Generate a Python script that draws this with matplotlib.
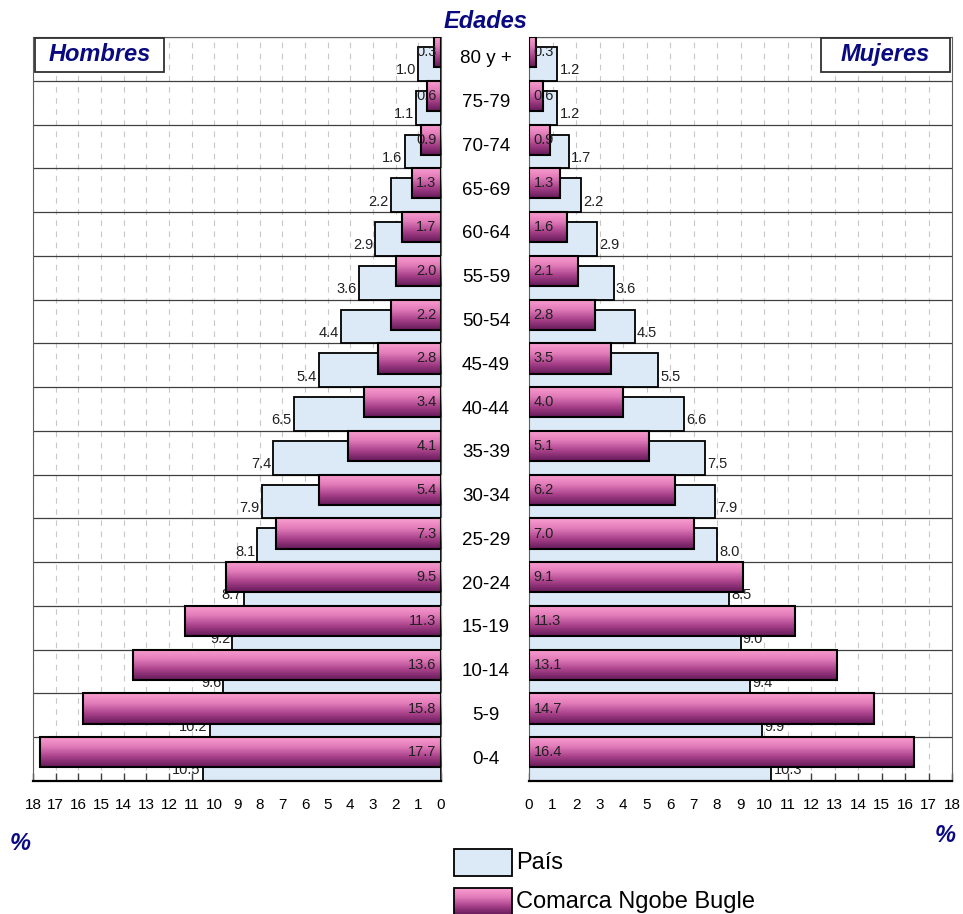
import numpy as np
import matplotlib
matplotlib.use("Agg")
import matplotlib.pyplot as plt
from matplotlib import transforms
from matplotlib.colors import LinearSegmentedColormap

plt.rcParams['font.family'] = ['Liberation Sans', 'DejaVu Sans']

# age groups, bottom to top
edades = ['0-4', '5-9', '10-14', '15-19', '20-24', '25-29', '30-34', '35-39',
          '40-44', '45-49', '50-54', '55-59', '60-64', '65-69', '70-74', '75-79', '80 y +']
hombres_pais = [10.5, 10.2, 9.6, 9.2, 8.7, 8.1, 7.9, 7.4, 6.5, 5.4, 4.4, 3.6, 2.9, 2.2, 1.6, 1.1, 1.0]
hombres_comarca = [17.7, 15.8, 13.6, 11.3, 9.5, 7.3, 5.4, 4.1, 3.4, 2.8, 2.2, 2.0, 1.7, 1.3, 0.9, 0.6, 0.3]
mujeres_pais = [10.3, 9.9, 9.4, 9.0, 8.5, 8.0, 7.9, 7.5, 6.6, 5.5, 4.5, 3.6, 2.9, 2.2, 1.7, 1.2, 1.2]
mujeres_comarca = [16.4, 14.7, 13.1, 11.3, 9.1, 7.0, 6.2, 5.1, 4.0, 3.5, 2.8, 2.1, 1.6, 1.3, 0.9, 0.6, 0.3]
xticks = list(range(0, 19))

W, H = 963, 914
navy = '#0A0A80'
blue_fill = '#DCE9F6'
pink_cmap = LinearSegmentedColormap.from_list('pk', ['#FA9FD0', '#E27BB9', '#A8418A', '#651A5A'])
grad = np.linspace(0, 1, 64).reshape(-1, 1)


def fx(px):
    return px / W


def fy(py):
    return 1 - py / H


fig = plt.figure(figsize=(9.63, 9.14), dpi=100)
ax_l = fig.add_axes([fx(33), fy(781), fx(441) - fx(33), fy(37) - fy(781)])
ax_r = fig.add_axes([fx(529), fy(781), fx(952) - fx(529), fy(37) - fy(781)])

y = np.arange(len(edades))
h_pais, h_com = 0.77, 0.69
y_pais = y - 0.5 + h_pais / 2
y_com = y + 0.5 - h_com / 2


def draw_side(ax, pais, com, left):
    ax.barh(y_pais, pais, height=h_pais, color=blue_fill, edgecolor='black',
            linewidth=1.3, zorder=2)
    bars = ax.barh(y_com, com, height=h_com, facecolor='none', edgecolor='black',
                   linewidth=1.5, zorder=4)
    for b in bars:
        x0, y0, w, hh = b.get_x(), b.get_y(), b.get_width(), b.get_height()
        im = ax.imshow(grad, extent=(x0, x0 + w, y0, y0 + hh), aspect='auto',
                       cmap=pink_cmap, zorder=3, interpolation='bilinear')
        im.set_clip_path(b)
    for i in range(len(edades)):
        # Comarca value inside bar, near the centre line
        ax.text(0.2, y_com[i], f'{com[i]:.1f}', ha='right' if left else 'left',
                va='center', fontsize=10.5, color='#202020', zorder=5)
        # País value at the end of the bar, low in the row
        ax.text(pais[i] + 0.1, i - 0.5 + 0.24, f'{pais[i]:.1f}',
                ha='right' if left else 'left', va='center', fontsize=10.5,
                color='#202020', zorder=2.5)

    ax.set_xlim((18, 0) if left else (0, 18))
    ax.set_ylim(-0.5, len(edades) - 0.5)
    ax.set_xticks(xticks)
    ax.set_yticks([])
    ax.set_yticks(np.arange(-0.5, len(edades), 1), minor=True)
    ax.tick_params(axis='y', which='both', length=0)
    ax.tick_params(axis='x', direction='in', length=6, width=1, pad=12,
                   labelsize=11, color='#404040')
    ax.grid(axis='x', linestyle=(0, (5, 5)), color='#C8C8C8', linewidth=0.8, zorder=0)
    ax.grid(axis='y', which='minor', linestyle='-', color='#404040', linewidth=0.9, zorder=1)
    ax.set_axisbelow(True)
    for s in ax.spines.values():
        s.set_color('#606060')
    ax.spines['bottom'].set_color('black')
    ax.spines['bottom'].set_linewidth(1.6)


draw_side(ax_l, hombres_pais, hombres_comarca, True)
draw_side(ax_r, mujeres_pais, mujeres_comarca, False)

# age labels in the middle
tr = transforms.blended_transform_factory(fig.transFigure, ax_l.transData)
for i, e in enumerate(edades):
    fig.text(fx(486), i, e, transform=tr, ha='center', va='center', fontsize=13.5)

title_kw = dict(fontsize=17, fontweight='bold', fontstyle='italic', color=navy)
fig.text(fx(486), fy(21), 'Edades', ha='center', va='center', **title_kw)

# header boxes for each side
for ax, lab, x0, x1 in [(ax_l, 'Hombres', 0.005, 0.321), (ax_r, 'Mujeres', 0.690, 0.995)]:
    r = plt.Rectangle((x0, 0.953), x1 - x0, 0.045, transform=ax.transAxes,
                      facecolor='white', edgecolor='#303030', linewidth=1.3, zorder=6)
    ax.add_patch(r)
    ax.text((x0 + x1) / 2, 0.976, lab, transform=ax.transAxes, ha='center',
            va='center', zorder=7, **title_kw)

fig.text(fx(20), fy(843), '%', ha='center', va='center', **title_kw)
fig.text(fx(945), fy(835), '%', ha='center', va='center', **title_kw)

# legend
ax_leg = fig.add_axes([0, 0, 1, 1], zorder=-1)
ax_leg.axis('off')
leg_items = ['País', 'Comarca Ngobe Bugle']
for k, lab in enumerate(leg_items):
    top = 849 + k * 39
    r = plt.Rectangle((454, top), 58, 27, facecolor=blue_fill if k == 0 else 'none',
                      edgecolor='black', linewidth=1.3, zorder=3)
    ax_leg.add_patch(r)
    if k == 1:
        im = ax_leg.imshow(grad, extent=(454, 512, top + 27, top), aspect='auto',
                           cmap=pink_cmap, zorder=2)
        im.set_clip_path(r)
    ax_leg.text(516, top + 14, lab, ha='left', va='center', fontsize=17)
ax_leg.set_xlim(0, W)
ax_leg.set_ylim(H, 0)

fig.savefig('out.png', dpi=100)
